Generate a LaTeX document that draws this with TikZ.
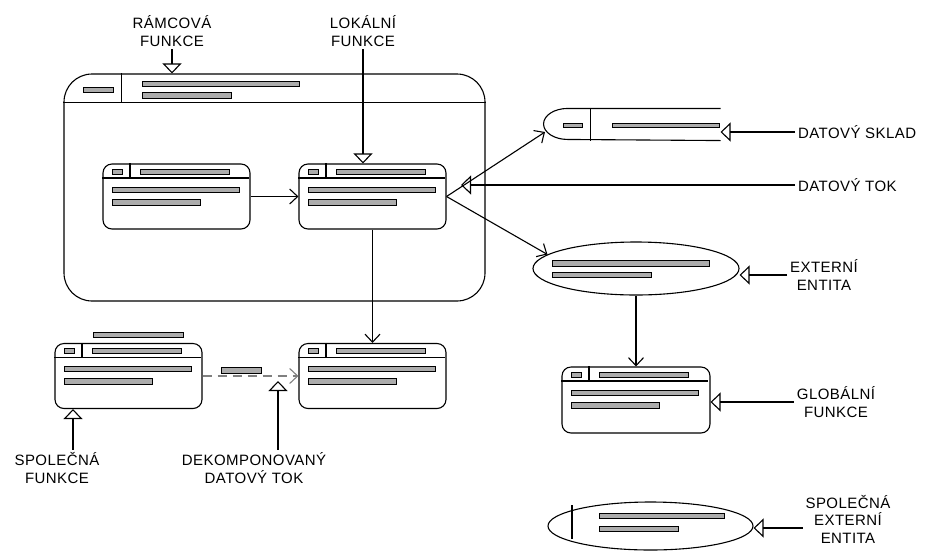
\documentclass[tikz,border=0pt]{standalone}
\usepackage{fontspec}
\setmainfont{Liberation Sans}[LetterSpace=3]
\usetikzlibrary{arrows.meta,positioning,shapes.geometric}

\begin{document}
\begin{tikzpicture}[
  x=1pt, y=-1pt,
  font=\fontsize{15}{17.5}\selectfont,
  line width=1.1pt,
  func/.style={draw, rounded corners=9pt, minimum width=147pt, minimum height=65pt, inner sep=0pt},
  bar/.style={draw=black, fill=gray!65, line width=1pt},
  flow/.style={-{Straight Barb[length=8pt,width=15pt]}},
  ptr/.style={-{Triangle[open,length=10pt,width=19pt]}},
  lbl/.style={align=center, inner sep=2.5pt}
]
\useasboundingbox (0,0) rectangle (929,550);

% frame function
\node[draw, rounded corners=28pt, minimum width=421pt, minimum height=227pt] (frame) at (274.5,187.5) {};
\draw ([yshift=-29pt]frame.north west) -- ([yshift=-29pt]frame.north east);
\draw ([xshift=58pt]frame.north west) -- ([xshift=58pt,yshift=-29pt]frame.north west);
\draw[bar] (83,87) rectangle (113,92);
\draw[bar] (142,81) rectangle (299,86);
\draw[bar] (142,92) rectangle (231,98);

% functions
\node[func] (A) at (176.5,196.5) {};
\node[func] (B) at (372.5,196.5) {};
\node[func] (C) at (128.5,376) {};
\node[func] (D) at (372.5,376) {};
\node[func, minimum width=148pt, minimum height=66pt] (glob) at (636,400) {};
\foreach \b in {A,B,C,D,glob} {
  \begin{scope}[shift={(\b.north west)}]
    \draw (0,14.5) -- (147,14.5);
    \draw (27.5,0) -- (27.5,14.5);
    \draw[bar] (10,6) rectangle (20,11);
    \draw[bar] (38,6) rectangle (127,11);
    \draw[bar] (10,24) rectangle (137,29);
    \draw[bar] (10,36) rectangle (98,42);
  \end{scope}
}
\draw[bar] (93,332) rectangle (183,337);
\draw[bar] (221,367) rectangle (261,373);

% data store
\node[minimum width=177pt, minimum height=31pt, inner sep=0pt] (store) at (631.5,124.5) {};
\draw (store.north east) -- ++(-153,0) arc[start angle=270, end angle=90, x radius=24, y radius=15.5] -- (store.south east);
\draw ([xshift=48pt]store.north west) -- ([xshift=48pt]store.south west);
\draw[bar] (563,123) rectangle (582,127);
\draw[bar] (612,123) rectangle (719,127);
\coordinate (storein) at (545,132);

% external entities
\node[draw, ellipse, minimum width=206pt, minimum height=53pt, inner sep=0pt] (ext) at (636,268.5) {};
\draw[bar] (552,260) rectangle (709,266);
\draw[bar] (552,272) rectangle (651,277);
\node[draw, ellipse, minimum width=205pt, minimum height=48pt, inner sep=0pt] (sext) at (650.5,526) {};
\draw (572,505) -- (572,539);
\draw[bar] (599,513) rectangle (724,518);
\draw[bar] (599,526) rectangle (678,531);

% flows
\draw[flow] (A) -- (B);
\draw[flow] (B.east) -- (storein);
\draw[flow] (B.east) -- (ext.171);
\draw[flow] (B) -- (D);
\draw[flow, gray, dash pattern=on 9pt off 6pt] (C) -- (D);
\draw[flow] (ext) -- (glob);

% labels
\node[lbl] (lram) at (172,31) {R\'AMCOV\'A\\FUNKCE};
\node[lbl] (llok) at (363,31) {LOK\'ALN\'I\\FUNKCE};
\node[lbl, anchor=west] (lsklad) at (795,132) {DATOV\'Y SKLAD};
\node[lbl, anchor=west] (ltok) at (795,185) {DATOV\'Y TOK};
\node[lbl] (lext) at (824,275) {EXTERN\'I\\ENTITA};
\node[lbl] (lglob) at (836,402) {GLOB\'ALN\'I\\FUNKCE};
\node[lbl] (lsext) at (848,519) {SPOLE\v{C}N\'A\\EXTERN\'I\\ENTITA};
\node[lbl] (lsf) at (57,468) {SPOLE\v{C}N\'A\\FUNKCE};
\node[lbl] (ldek) at (254,468) {DEKOMPONOVAN\'Y\\DATOV\'Y TOK};
\coordinate (tokend) at (461,185);
\coordinate (dekend) at (278,381);

\draw[ptr] (lram.south) -- (lram.south |- frame.north);
\draw[ptr] (llok.south) -- (llok.south |- B.north);
\draw[ptr] (lsklad.west) -- (lsklad.west -| store.east);
\draw[ptr] (ltok.west) -- (tokend);
\draw[ptr] (lext.west) -- (lext.west -| ext.east);
\draw[ptr] (lglob.west) -- (lglob.west -| glob.east);
\draw[ptr] ([yshift=-9pt]lsext.west) -- ([yshift=-9pt]lsext.west -| sext.east);
\draw[ptr] ([xshift=16pt]lsf.north) -- ([xshift=16pt]lsf.north |- C.south);
\draw[ptr] (ldek.north -| dekend) -- (dekend);
\end{tikzpicture}
\end{document}
